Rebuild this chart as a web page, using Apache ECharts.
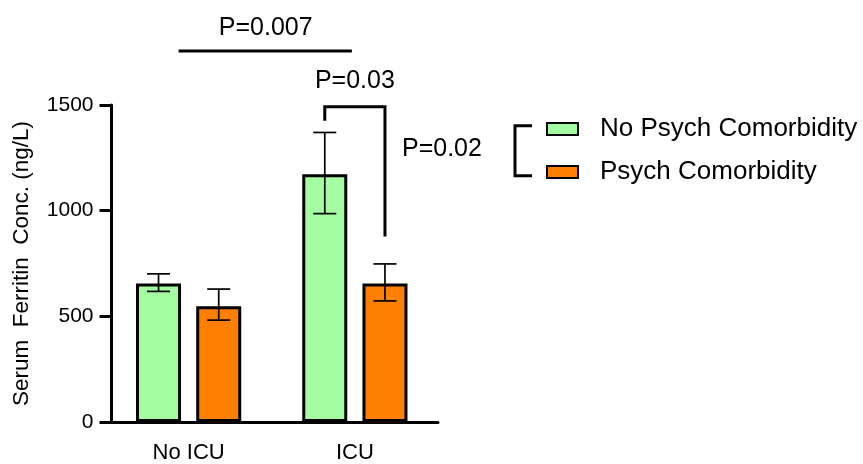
<!DOCTYPE html>
<html><head><meta charset="utf-8">
<script src="https://cdn.jsdelivr.net/npm/echarts@6/dist/echarts.min.js"></script>
<style>html,body{margin:0;padding:0;background:#fff}#c{width:863px;height:464px}</style>
</head><body><div id="c"></div>
<script>
// ---- data ----
const categories = ['No ICU', 'ICU'];
const seriesNames = ['No Psych Comorbidity', 'Psych Comorbidity'];
const noPsychMean = [655, 1172];
const noPsychLow  = [618, 986];
const noPsychHigh = [701, 1370];
const psychMean = [548, 655];
const psychLow  = [482, 573];
const psychHigh = [629, 748];
const yTicks = [0, 500, 1000, 1500];
const pLabels = ['P=0.007', 'P=0.03', 'P=0.02'];
// annotation levels (data units)
const overallLineLevel = 1755, overallTextLevel = 1862;
const icuBracketTop = 1492, icuLeftEnd = 1426, icuRightEnd = 878, icuTextLevel = 1615;
const sideTextLevel = 1293;

// ---- style ----
const FONT = '"Liberation Sans", Arial, sans-serif';
const BAR_W = 45, GAP_PX = 15.2;
const HALF = (BAR_W + GAP_PX) / 2;
const CAP = 11.5;
const GREEN = '#A3FDA0', ORANGE = '#FF8000';

const chart = echarts.init(document.getElementById('c'), null, {renderer: 'canvas'});

function errRender(params, api) {
  const ci = api.value(0), lo = api.value(1), hi = api.value(2), s = api.value(3);
  const c = api.coord([ci, 0]);
  const x = c[0] + (s === 0 ? -1 : 1) * HALF;
  const yl = api.coord([ci, lo])[1], yh = api.coord([ci, hi])[1];
  const st = {stroke: '#000', lineWidth: 1.7};
  return {type: 'group', children: [
    {type: 'line', shape: {x1: x, y1: yl, x2: x, y2: yh}, style: st},
    {type: 'line', shape: {x1: x - CAP, y1: yh, x2: x + CAP, y2: yh}, style: st},
    {type: 'line', shape: {x1: x - CAP, y1: yl, x2: x + CAP, y2: yl}, style: st}
  ]};
}

function annRender(params, api) {
  const c0 = api.coord([0, overallLineLevel]);
  const c1 = api.coord([1, overallLineLevel]);
  const st = {stroke: '#000', lineWidth: 3, fill: null};
  const tf = {font: '25px ' + FONT, fill: '#000'};
  const tOverall = api.coord([0, overallTextLevel])[1];
  const xl = api.coord([1, 0])[0] - HALF, xr = api.coord([1, 0])[0] + HALF;
  const yTop = api.coord([1, icuBracketTop])[1];
  const yL = api.coord([1, icuLeftEnd])[1], yR = api.coord([1, icuRightEnd])[1];
  const tIcu = api.coord([1, icuTextLevel])[1];
  const tSide = api.coord([1, sideTextLevel])[1];
  return {type: 'group', children: [
    {type: 'line', shape: {x1: c0[0] - 10, y1: c0[1], x2: c1[0] - 3, y2: c1[1]}, style: st},
    {type: 'text', style: Object.assign({text: pLabels[0], x: (c0[0] + c1[0]) / 2 - 6, y: tOverall, align: 'center', verticalAlign: 'middle'}, tf)},
    {type: 'polyline', shape: {points: [[xl, yL], [xl, yTop], [xr, yTop], [xr, yR]]}, style: st},
    {type: 'text', style: Object.assign({text: pLabels[1], x: (xl + xr) / 2, y: tIcu, align: 'center', verticalAlign: 'middle'}, tf)},
    {type: 'text', style: Object.assign({text: pLabels[2], x: xr + 17, y: tSide, align: 'left', verticalAlign: 'middle'}, tf)}
  ]};
}

const errData = [];
categories.forEach((c, i) => {
  errData.push([i, noPsychLow[i], noPsychHigh[i], 0]);
  errData.push([i, psychLow[i], psychHigh[i], 1]);
});

chart.setOption({
  animation: false,
  backgroundColor: '#fff',
  textStyle: {fontFamily: FONT},
  grid: {left: 105.5, right: 425, top: 105, bottom: 39.7, containLabel: false},
  legend: {
    orient: 'vertical', left: 541, top: 111, padding: 5, itemWidth: 31, itemHeight: 12, itemGap: 17,
    icon: 'rect',
    itemStyle: {borderColor: '#000', borderWidth: 2},
    textStyle: {fontFamily: FONT, fontSize: 26, color: '#000', padding: [0, 0, 0, 17]},
    data: seriesNames
  },
  xAxis: {
    type: 'category', data: categories,
    axisLine: {lineStyle: {color: '#000', width: 3}},
    axisTick: {alignWithLabel: true, length: 12, lineStyle: {color: '#000', width: 3}},
    axisLabel: {color: '#000', fontSize: 22, fontFamily: FONT, margin: 20}
  },
  yAxis: {
    type: 'value', min: 0, max: 1500, interval: 500, offset: -6,
    name: 'Serum  Ferritin  Conc. (ng/L)', nameLocation: 'middle', nameGap: 78,
    nameTextStyle: {color: '#000', fontSize: 22.5, fontFamily: FONT},
    axisLine: {show: true, lineStyle: {color: '#000', width: 3}},
    axisTick: {show: true, length: 12, lineStyle: {color: '#000', width: 3}},
    axisLabel: {color: '#000', fontSize: 21, fontFamily: FONT, margin: 18,
      formatter: v => yTicks.includes(v) ? String(v) : ''},
    splitLine: {show: false}
  },
  series: [
    {name: seriesNames[0], type: 'bar', data: noPsychMean, barWidth: BAR_W, barGap: (GAP_PX / BAR_W * 100) + '%',
     itemStyle: {color: GREEN, borderColor: '#000', borderWidth: 3}, z: 2},
    {name: seriesNames[1], type: 'bar', data: psychMean, barWidth: BAR_W,
     itemStyle: {color: ORANGE, borderColor: '#000', borderWidth: 3}, z: 2},
    {name: 'err', type: 'custom', data: errData, renderItem: errRender, z: 5, silent: true},
    {name: 'ann', type: 'custom', data: [[0, 0]], renderItem: annRender, clip: false, z: 5, silent: true}
  ],
  graphic: [
    {type: 'polyline', shape: {points: [[532, 125.7], [515, 125.7], [515, 175.7], [532, 175.7]]},
     style: {stroke: '#000', lineWidth: 3, fill: null}, z: 10}
  ]
});
</script></body></html>
